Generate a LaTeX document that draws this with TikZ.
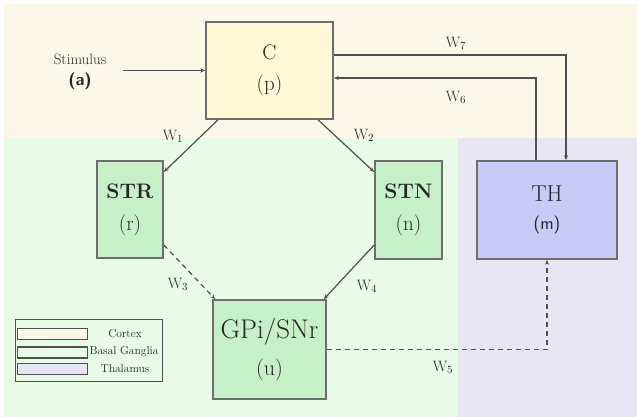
\documentclass[tikz,border=0pt]{standalone}
\usetikzlibrary{arrows.meta}
\definecolor{cortexbg}{HTML}{FBF8E8}
\definecolor{cortexfill}{HTML}{FFF8D6}
\definecolor{bgbg}{HTML}{E8FBE6}
\definecolor{bgfill}{HTML}{C8F0C8}
\definecolor{thbg}{HTML}{E8E6F4}
\definecolor{thfill}{HTML}{CACAF8}
\definecolor{edge}{HTML}{6E6E6E}
\definecolor{wire}{HTML}{505050}
\definecolor{ink}{HTML}{262626}
\tikzset{
  block/.style={draw=edge, line width=1.6pt, align=center, inner sep=0pt, text=ink},
  arr/.style={draw=wire, line width=1.2pt, -{Stealth[length=5pt,width=4pt]}},
  wlab/.style={font=\fontsize{15}{15}\selectfont, text=ink},
  legbox/.style={draw=wire, line width=1.2pt},
  leglab/.style={font=\fontsize{11.5}{11.5}\selectfont, text=ink}
}
\begin{document}
\begin{tikzpicture}[x=1pt,y=-1pt]
  \useasboundingbox (0,0) rectangle (637,417);
  % region backgrounds
  \fill[white] (0,0) rectangle (637,417);
  \fill[cortexbg] (4,4) rectangle (637,138);
  \fill[bgbg] (4,138) rectangle (458,417);
  \fill[thbg] (458,138) rectangle (637,417);

  % blocks
  \node[block, fill=cortexfill, minimum width=127pt, minimum height=97pt,
        font=\fontsize{21}{31}\selectfont] (C) at (269.5,70.5) {C\\(p)};
  \node[block, fill=bgfill, minimum width=66pt, minimum height=97pt,
        font=\fontsize{21}{32}\selectfont] (STR) at (130,209.5) {\textbf{STR}\\(r)};
  \node[block, fill=bgfill, minimum width=67pt, minimum height=98pt,
        font=\fontsize{21}{32}\selectfont] (STN) at (408.5,210) {\textbf{STN}\\(n)};
  \node[block, fill=bgfill, minimum width=113pt, minimum height=99pt,
        font=\fontsize{27}{37}\selectfont] (GPi) at (269.5,349.5) {GPi/SNr\\{\fontsize{22}{22}\selectfont(u)}};
  \node[block, fill=thfill, minimum width=140pt, minimum height=98pt,
        font=\fontsize{23}{28}\selectfont] (TH) at (547,210) {TH\\{\fontsize{18}{18}\selectfont\sffamily(m)}};

  % stimulus input
  \node[align=center, text=ink, font=\fontsize{15}{21}\selectfont] (stim) at (80,72)
    {Stimulus\\{\fontsize{17}{17}\selectfont\sffamily\bfseries(a)}};
  \coordinate (stimend) at (123,70.5);
  \draw[arr] (stimend) -- (C.west);

  % cortex <-> thalamus loops
  \draw[arr] ([yshift=15.5pt]C.east) -| ([xshift=19pt]TH.north);
  \draw[arr] ([xshift=-11pt]TH.north) |- ([yshift=-7.5pt]C.east);
  \node[wlab] (w7) at (456,43) {W$_7$};
  \node[wlab] (w6) at (456,97) {W$_6$};

  % cortex -> striatum / STN
  \draw[arr] ([xshift=-51.5pt]C.south) -- ([yshift=37.5pt]STR.east);
  \draw[arr] ([xshift=48.5pt]C.south) -- ([yshift=38pt]STN.west);
  \node[wlab] (w1) at (173,136) {W$_1$};
  \node[wlab] (w2) at (364,135) {W$_2$};

  % striatum / STN -> GPi/SNr
  \draw[arr, dash pattern=on 5pt off 4pt] ([yshift=-35.5pt]STR.east) -- ([xshift=3pt]GPi.north west);
  \draw[arr] ([yshift=-35pt]STN.west) -- ([xshift=-3pt]GPi.north east);
  \node[wlab] (w3) at (178,284) {W$_3$};
  \node[wlab] (w4) at (367,286) {W$_4$};

  % GPi/SNr -> thalamus
  \draw[arr, dash pattern=on 5pt off 4pt] (GPi.east) -| (TH.south);
  \node[wlab] (w5) at (443,367) {W$_5$};

  % legend
  \node[legbox, minimum width=147pt, minimum height=62pt, inner sep=0pt] (leg) at (89,350.5) {};
  \node[legbox, fill=cortexbg, minimum width=70pt, minimum height=11pt, inner sep=0pt] (sw1) at (52.5,334) {};
  \node[legbox, fill=bgbg, minimum width=70pt, minimum height=11pt, inner sep=0pt] (sw2) at (52.5,352.5) {};
  \node[legbox, fill=thbg, minimum width=70pt, minimum height=11pt, inner sep=0pt] (sw3) at (52.5,369) {};
  \node[leglab] (l1) at (125,334) {Cortex};
  \node[leglab] (l2) at (124,352) {Basal Ganglia};
  \node[leglab] (l3) at (125,369) {Thalamus};
\end{tikzpicture}
\end{document}
